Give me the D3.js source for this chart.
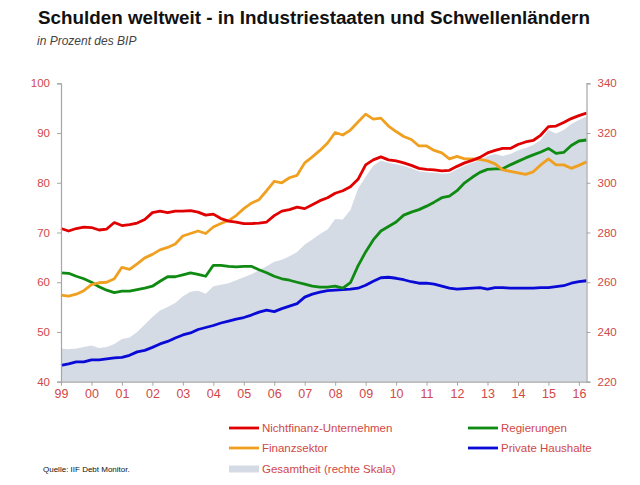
<!DOCTYPE html>
<html><head><meta charset="utf-8">
<script src="https://cdn.jsdelivr.net/npm/d3@7"></script>
<style>
html,body{margin:0;padding:0;background:#fff;}
svg{display:block;font-family:"Liberation Sans","DejaVu Sans",sans-serif;}
</style></head>
<body>
<svg id="c" width="640" height="485"></svg>
<script>
// ---- data (quarterly, 1999 Q1 .. 2016 Q2) ----
const startYear = 1999;
const nichtfinanz = [70.8,70.3,70.8,71.1,71.0,70.5,70.7,72.0,71.4,71.6,71.9,72.6,74.0,74.3,74.0,74.3,74.3,74.4,74.1,73.5,73.7,72.8,72.3,72.1,71.8,71.8,71.9,72.1,73.4,74.3,74.6,75.1,74.8,75.6,76.4,77.0,77.9,78.4,79.2,80.7,83.6,84.6,85.2,84.6,84.4,84.0,83.5,82.9,82.7,82.6,82.4,82.5,83.3,84.0,84.5,85.1,86.0,86.5,86.9,86.9,87.7,88.2,88.5,89.6,91.3,91.4,92.1,92.9,93.5,94.0];
const finanzsektor = [57.4,57.2,57.6,58.3,59.5,59.9,60.0,60.7,63.0,62.6,63.7,64.9,65.6,66.5,67.0,67.7,69.3,69.8,70.3,69.8,71.1,71.8,72.4,73.4,74.8,75.9,76.6,78.4,80.3,80.0,81.0,81.5,84.0,85.2,86.5,88.0,90.1,89.6,90.6,92.2,93.8,92.8,93.0,91.4,90.3,89.3,88.7,87.4,87.4,86.5,86.0,84.8,85.3,84.8,84.8,84.7,84.4,83.8,82.6,82.3,82.0,81.7,82.2,83.6,84.8,83.6,83.6,82.9,83.5,84.2];
const regierungen = [61.9,61.8,61.2,60.7,60.0,59.1,58.4,57.9,58.2,58.2,58.5,58.8,59.2,60.2,61.1,61.1,61.5,61.9,61.6,61.2,63.4,63.4,63.2,63.1,63.2,63.2,62.5,61.9,61.2,60.7,60.4,60.0,59.6,59.2,59.0,59.0,59.2,58.8,59.9,63.3,66.1,68.5,70.3,71.2,72.1,73.5,74.1,74.6,75.3,76.1,77.0,77.3,78.4,80.0,81.1,82.1,82.7,82.8,82.8,83.6,84.3,85.0,85.6,86.2,86.9,85.9,86.1,87.5,88.4,88.6];
const haushalte = [43.3,43.6,44.0,44.0,44.4,44.4,44.6,44.8,44.9,45.3,46.0,46.3,46.9,47.6,48.1,48.8,49.4,49.8,50.5,50.9,51.3,51.8,52.2,52.6,52.9,53.4,54.0,54.4,54.1,54.7,55.2,55.7,57.0,57.6,58.0,58.3,58.4,58.5,58.6,58.8,59.4,60.2,60.9,61.0,60.8,60.5,60.1,59.8,59.8,59.6,59.2,58.8,58.6,58.7,58.8,58.9,58.6,58.9,58.9,58.8,58.8,58.8,58.8,58.9,58.9,59.1,59.3,59.8,60.1,60.3];
const gesamtheit = [233.4,233.0,233.4,234.0,234.6,233.6,234.0,235.2,237.2,237.8,240.0,243.0,246.0,248.6,250.0,251.6,254.4,256.2,256.6,255.4,258.4,259.0,259.6,260.8,262.0,263.2,264.8,266.4,268.2,269.0,270.4,272.2,275.2,277.2,279.4,281.2,285.4,285.2,289.0,297.6,302.4,306.8,309.0,308.0,307.4,306.8,305.8,304.6,304.2,304.0,303.6,303.8,305.4,306.8,308.0,309.2,310.8,311.6,310.8,311.6,313.0,314.0,315.2,317.2,321.2,319.8,321.2,323.6,325.2,326.6];
const yearTicks = [1999,2000,2001,2002,2003,2004,2005,2006,2007,2008,2009,2010,2011,2012,2013,2014,2015,2016];
const yearLabels = ["99","00","01","02","03","04","05","06","07","08","09","10","11","12","13","14","15","16"];
const leftTicks = [40,50,60,70,80,90,100];
const rightTicks = [220,240,260,280,300,320,340];
const seriesNames = ["Nichtfinanz-Unternehmen","Regierungen","Finanzsektor","Private Haushalte","Gesamtheit (rechte Skala)"];
const titleText = "Schulden weltweit - in Industriestaaten und Schwellenländern";
const subtitleText = "in Prozent des BIP";
const sourceText = "Quelle: IIF Debt Monitor.";

// ---- drawing ----
const svg = d3.select("#c");
const labelColor = "#d04848";
const axisColor = "#a6a6a6";
const L = 61, R = 586.5, T = 83.3, B = 381.7;

const times = nichtfinanz.map((d,i) => startYear + i/4);
const x = d3.scaleLinear().domain([startYear, times[times.length-1]]).range([L, R]);
const yL = d3.scaleLinear().domain([40,100]).range([B, T]);
const yR = d3.scaleLinear().domain([220,340]).range([B, T]);

// area
const area = d3.area().x((d,i)=>x(times[i])).y0(B).y1(d=>yR(d));
svg.append("path").datum(gesamtheit).attr("d", area).attr("fill", "#d5dbe5");

// lines
const line = d3.line().x((d,i)=>x(times[i])).y(d=>yL(d));
const lines = [
  [haushalte, "#0a0ad6"],
  [regierungen, "#0f8a12"],
  [finanzsektor, "#f0a020"],
  [nichtfinanz, "#e00000"]
];
lines.forEach(([data,col]) => {
  svg.append("path").datum(data).attr("d", line).attr("fill","none")
    .attr("stroke", col).attr("stroke-width", 2.8).attr("stroke-linejoin","round");
});

// axes
function styleAxis(g){
  g.selectAll(".domain").attr("stroke", axisColor).attr("stroke-width",1.2);
  g.selectAll(".tick line").attr("stroke", axisColor).attr("stroke-width",1);
  g.selectAll(".tick text").attr("fill", labelColor).style("font-size","11.5px")
    .style("font-family","'Liberation Sans',sans-serif");
}
const gL = svg.append("g").attr("transform",`translate(${L},0)`)
  .call(d3.axisLeft(yL).tickValues(leftTicks).tickSize(4).tickSizeOuter(4).tickPadding(7).tickFormat(d3.format("d")));
styleAxis(gL);
const gR = svg.append("g").attr("transform",`translate(${R},0)`)
  .call(d3.axisRight(yR).tickValues(rightTicks).tickSize(4).tickSizeOuter(4).tickPadding(7).tickFormat(d3.format("d")));
styleAxis(gR);
const gX = svg.append("g").attr("transform",`translate(0,${B})`)
  .call(d3.axisBottom(x).tickValues(yearTicks).tickSize(4).tickSizeOuter(0).tickPadding(3)
    .tickFormat((d,i)=>yearLabels[i]));
styleAxis(gX);
gX.selectAll(".tick text").style("font-size","12.5px");

// title
const title = svg.append("text").attr("x",38).attr("y",24).text(titleText)
  .style("font-weight","bold").style("font-size","17px").attr("fill","#111");
const tw = title.node().getComputedTextLength();
title.style("font-size", (17*552/tw).toFixed(2)+"px");
svg.append("text").attr("x",37).attr("y",45).text(subtitleText)
  .style("font-style","italic").style("font-size","12px").attr("fill","#444");

// legend
const legendItems = [
  {name:seriesNames[0], col:"#e00000", x:229, y:428, rect:false},
  {name:seriesNames[1], col:"#0f8a12", x:468, y:428, rect:false},
  {name:seriesNames[2], col:"#f0a020", x:229, y:448, rect:false},
  {name:seriesNames[3], col:"#0a0ad6", x:468, y:448, rect:false},
  {name:seriesNames[4], col:"#d5dbe5", x:229, y:469, rect:true}
];
legendItems.forEach(it => {
  if (it.rect) {
    svg.append("rect").attr("x",it.x).attr("y",it.y-3.5).attr("width",30).attr("height",7).attr("fill",it.col);
  } else {
    svg.append("line").attr("x1",it.x).attr("x2",it.x+30).attr("y1",it.y).attr("y2",it.y)
      .attr("stroke",it.col).attr("stroke-width",2.8);
  }
  svg.append("text").attr("x",it.x+33).attr("y",it.y+4).text(it.name)
    .attr("fill",labelColor).style("font-size","11.5px");
});
svg.append("text").attr("x",43).attr("y",472).text(sourceText)
  .attr("fill","#111").style("font-size","8px");
</script>
</body></html>
